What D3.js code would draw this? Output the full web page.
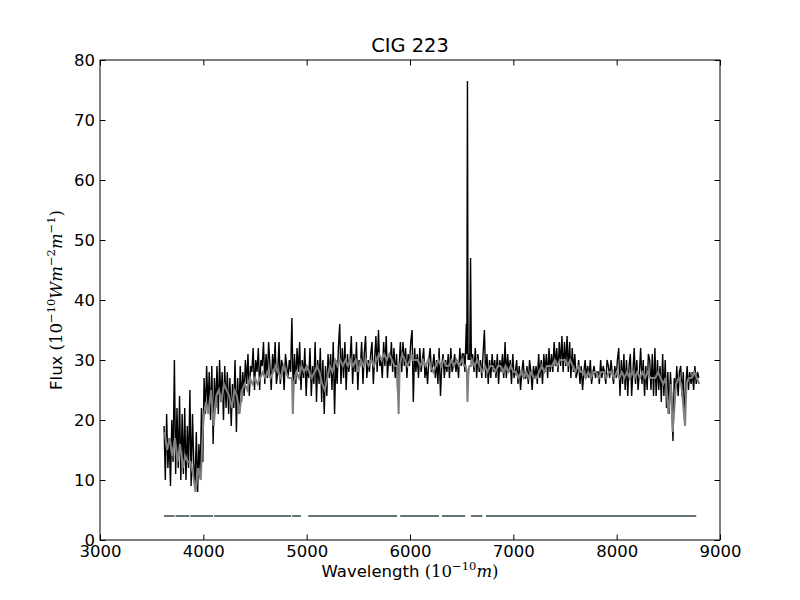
<!DOCTYPE html>
<html>
<head>
<meta charset="utf-8">
<script src="https://cdn.jsdelivr.net/npm/d3@7"></script>
<style>
  body { margin: 0; background: #fff; }
  text { font-family: "DejaVu Sans", sans-serif; }
</style>
</head>
<body>
<div id="chart"></div>
<script>
// observed spectrum (black): wavelength in Angstrom and flux
const obsWavelength = [
  3620, 3632, 3645, 3657, 3670, 3682, 3695, 3707,
  3720, 3732, 3745, 3757, 3770, 3782, 3795, 3807,
  3820, 3832, 3845, 3857, 3870, 3882, 3895, 3907,
  3920, 3932, 3945, 3957, 3970, 3982, 3995, 4007,
  4020, 4032, 4045, 4057, 4070, 4082, 4095, 4107,
  4120, 4132, 4145, 4157, 4170, 4182, 4195, 4207,
  4220, 4232, 4245, 4257, 4270, 4282, 4295, 4307,
  4320, 4332, 4345, 4357, 4370, 4382, 4395, 4407,
  4420, 4432, 4445, 4457, 4470, 4482, 4495, 4507,
  4520, 4532, 4545, 4557, 4570, 4582, 4595, 4607,
  4620, 4632, 4645, 4657, 4670, 4682, 4695, 4707,
  4720, 4732, 4745, 4757, 4770, 4782, 4795, 4807,
  4820, 4832, 4845, 4857, 4870, 4882, 4895, 4907,
  4920, 4932, 4945, 4957, 4970, 4982, 4995, 5007,
  5020, 5032, 5045, 5057, 5070, 5082, 5095, 5107,
  5120, 5132, 5145, 5157, 5170, 5182, 5195, 5207,
  5220, 5232, 5245, 5257, 5270, 5282, 5295, 5307,
  5320, 5332, 5345, 5357, 5370, 5382, 5395, 5407,
  5420, 5432, 5445, 5457, 5470, 5482, 5495, 5507,
  5520, 5532, 5545, 5557, 5570, 5582, 5595, 5607,
  5620, 5632, 5645, 5657, 5670, 5682, 5695, 5707,
  5720, 5732, 5745, 5757, 5770, 5782, 5795, 5807,
  5820, 5832, 5845, 5857, 5870, 5882, 5895, 5907,
  5920, 5932, 5945, 5957, 5970, 5982, 5995, 6007,
  6020, 6032, 6045, 6057, 6070, 6082, 6095, 6107,
  6120, 6132, 6145, 6157, 6170, 6182, 6195, 6207,
  6220, 6232, 6245, 6257, 6270, 6282, 6295, 6307,
  6320, 6332, 6345, 6357, 6370, 6382, 6395, 6407,
  6420, 6432, 6445, 6457, 6470, 6482, 6495, 6507,
  6520, 6532, 6545, 6550, 6556, 6562, 6570, 6578, 6586, 6594, 6605,
  6620, 6632, 6645, 6657, 6670, 6682, 6695, 6707,
  6720, 6732, 6745, 6757, 6770, 6782, 6795, 6807,
  6820, 6832, 6845, 6857, 6870, 6882, 6895, 6907,
  6920, 6932, 6945, 6957, 6970, 6982, 6995, 7007,
  7020, 7032, 7045, 7057, 7070, 7082, 7095, 7107,
  7120, 7132, 7145, 7157, 7170, 7182, 7195, 7207,
  7220, 7232, 7245, 7257, 7270, 7282, 7295, 7307,
  7320, 7332, 7345, 7357, 7370, 7382, 7395, 7407,
  7420, 7432, 7445, 7457, 7470, 7482, 7495, 7507,
  7520, 7532, 7545, 7557, 7570, 7582, 7595, 7607,
  7620, 7632, 7645, 7657, 7670, 7682, 7695, 7707,
  7720, 7732, 7745, 7757, 7770, 7782, 7795, 7807,
  7820, 7832, 7845, 7857, 7870, 7882, 7895, 7907,
  7920, 7932, 7945, 7957, 7970, 7982, 7995, 8007,
  8020, 8032, 8045, 8057, 8070, 8082, 8095, 8107,
  8120, 8132, 8145, 8157, 8170, 8182, 8195, 8207,
  8220, 8232, 8245, 8257, 8270, 8282, 8295, 8307,
  8320, 8332, 8345, 8357, 8370, 8382, 8395, 8407,
  8420, 8432, 8445, 8457, 8470, 8482, 8495, 8507,
  8520, 8532, 8545, 8557, 8570, 8582, 8595, 8607,
  8620, 8632, 8645, 8657, 8670, 8682, 8695, 8707,
  8720, 8732, 8745, 8757, 8770, 8782, 8795
];

const obsFlux = [
  19, 10, 21, 12, 17, 9, 20, 13,
  30, 11, 22, 12, 24, 10, 21, 11,
  22, 10, 19, 12, 25, 9, 21, 13,
  9, 18, 8, 16, 11, 22, 13, 27,
  21, 29, 22, 28, 20, 29, 16, 27,
  22, 29, 21, 30, 23, 28, 20, 29,
  22, 28, 21, 27, 19, 26, 22, 30,
  18, 27, 21, 29, 23, 28, 24, 30,
  26, 31, 24, 29, 28, 32, 25, 30,
  28, 32, 25, 30, 29, 33, 26, 31,
  27, 33, 29, 25, 31, 28, 33, 26,
  28, 33, 26, 30, 29, 25, 31, 29,
  27, 30, 28, 37, 24, 31, 26, 32,
  28, 33, 25, 30, 27, 32, 24, 29,
  27, 32, 24, 29, 26, 33, 23, 30,
  26, 32, 23, 30, 21, 29, 24, 31,
  27, 31, 25, 33, 21, 30, 26, 32,
  36, 26, 32, 27, 33, 25, 31, 28,
  30, 34, 26, 31, 28, 33, 25, 30,
  29, 33, 26, 31, 34, 27, 30, 28,
  31, 33, 26, 30, 34, 28, 35, 29,
  30, 27, 33, 29, 34, 27, 31, 29,
  33, 28, 32, 27, 31, 24, 29, 33,
  28, 33, 29, 32, 27, 31, 29, 33,
  35, 23, 32, 28, 31, 27, 32, 28,
  30, 32, 27, 29, 26, 30, 32, 28,
  29, 31, 27, 30, 26, 32, 24, 29,
  31, 27, 30, 28, 31, 27, 32, 28,
  29, 31, 28, 30, 27, 32, 29, 31,
  31, 28, 36, 31, 76.5, 30, 31, 30, 47, 29, 31,
  28, 32, 27, 31, 28, 30, 27, 31,
  35, 27, 31, 26, 30, 27, 31, 28,
  30, 27, 31, 26, 30, 28, 31, 27,
  33, 27, 31, 28, 30, 26, 31, 27,
  28, 30, 26, 29, 25, 28, 30, 27,
  27, 29, 26, 30, 28, 25, 29, 27,
  29, 26, 31, 27, 30, 26, 31, 28,
  31, 27, 32, 28, 31, 28, 33, 29,
  32, 28, 33, 29, 34, 28, 33, 29,
  34, 28, 33, 27, 32, 28, 31, 27,
  28, 30, 26, 29, 25, 28, 30, 27,
  29, 27, 30, 26, 28, 29, 27, 28,
  28, 26, 30, 27, 29, 28, 26, 30,
  29, 27, 30, 28, 26, 29, 27, 30,
  32, 24, 30, 26, 31, 25, 30, 24,
  29, 31, 24, 28, 32, 26, 30, 25,
  28, 32, 26, 30, 24, 29, 25, 31,
  30, 25, 31, 24, 32, 24, 30, 25,
  29, 23, 31, 24, 30, 22, 28, 21,
  28, 24, 16.5, 27, 25, 29, 24, 28,
  29, 24, 28, 20, 26, 29, 25, 28,
  26, 28, 25, 29, 26, 28, 27
];

// fitted model (grey)
const modelWavelength = [
  3625, 3650, 3675, 3700, 3725, 3750, 3775, 3800, 3825, 3850,
  3875, 3900, 3925, 3950, 3975, 4000, 4025, 4050, 4075, 4100,
  4125, 4150, 4175, 4200, 4225, 4250, 4275, 4300, 4325, 4350,
  4375, 4400, 4425, 4450, 4475, 4500, 4525, 4550, 4575, 4600,
  4625, 4650, 4675, 4700, 4725, 4750, 4775, 4800, 4825, 4850, 4858, 4866,
  4875, 4900, 4925, 4950, 4975, 5000, 5025, 5050, 5075, 5100,
  5125, 5150, 5175, 5200, 5225, 5250, 5275, 5300, 5325, 5350,
  5375, 5400, 5425, 5450, 5475, 5500, 5525, 5550, 5575, 5600,
  5625, 5650, 5675, 5700, 5725, 5750, 5775, 5800, 5825, 5850,
  5875, 5890, 5900, 5925, 5950, 5975, 6000, 6018, 6025, 6050, 6075, 6100,
  6125, 6150, 6175, 6200, 6225, 6250, 6275, 6300, 6325, 6350,
  6375, 6400, 6425, 6450, 6475, 6500, 6525, 6540, 6550, 6556, 6566, 6575, 6583, 6592, 6600,
  6625, 6650, 6675, 6700, 6725, 6750, 6775, 6800, 6825, 6850,
  6875, 6900, 6925, 6950, 6975, 7000, 7025, 7050, 7075, 7100,
  7125, 7150, 7175, 7200, 7225, 7250, 7275, 7300, 7325, 7350,
  7375, 7400, 7425, 7450, 7475, 7500, 7525, 7550, 7575, 7600,
  7625, 7650, 7675, 7700, 7725, 7750, 7775, 7800, 7825, 7850,
  7875, 7900, 7925, 7950, 7975, 8000, 8025, 8050, 8075, 8100,
  8125, 8150, 8175, 8200, 8225, 8250, 8275, 8300, 8325, 8350,
  8375, 8400, 8425, 8450, 8475, 8500, 8525, 8542, 8575, 8600,
  8625, 8662, 8675, 8700, 8725, 8750, 8775, 8800
];

const modelFlux = [
  18, 15, 17, 14, 17, 13, 16, 12, 14, 13,
  13, 11, 8, 12, 10, 20, 23, 21, 25, 19,
  24, 25, 23, 26, 25, 24, 22, 25, 24, 21,
  25, 26, 25, 27, 26, 27, 26, 27, 28, 27,
  28, 27, 28, 29, 28, 27, 29, 28, 27, 27, 27, 21,
  26, 28, 27, 29, 28, 29, 28, 27, 28, 29,
  28, 26, 25, 27, 29, 28, 30, 29, 30, 29,
  30, 29, 30, 29, 30, 28, 30, 29, 30, 29,
  30, 29, 30, 31, 30, 31, 30, 31, 30, 29,
  29, 21, 29, 31, 30, 29, 30, 31, 30, 30, 30, 29,
  30, 29, 30, 29, 28, 29, 30, 29, 30, 29,
  29, 30, 29, 30, 29, 30, 29, 29, 28, 23, 28, 29, 29, 29, 30,
  29, 30, 29, 28, 29, 28, 29, 29, 28, 29,
  29, 28, 29, 28, 29, 28, 28, 27, 28, 27,
  28, 27, 28, 27, 27, 28, 29, 28, 29, 29,
  29, 30, 29, 30, 30, 30, 29, 30, 29, 28,
  29, 28, 28, 27, 28, 27, 28, 28, 27, 28,
  28, 27, 28, 28, 27, 28, 27, 28, 27, 28,
  27, 28, 27, 28, 27, 28, 27, 28, 27, 27,
  27, 28, 27, 26, 27, 21, 26, 18, 26, 27,
  26, 19, 26, 27, 27, 28, 27, 26
];

// fitted wavelength ranges (mask segments) and their plotted level
const maskStart = [3620, 3730, 3875, 4105, 4860, 5015, 5905, 6310, 6590, 6735];
const maskEnd   = [3720, 3865, 4095, 4850, 4945, 5875, 6280, 6535, 6700, 8770];
const maskLevel = 4;

const xTicks = [3000, 4000, 5000, 6000, 7000, 8000, 9000];
const yTicks = [0, 10, 20, 30, 40, 50, 60, 70, 80];

const width = 800;
const height = 600;
const margin = { top: 60, right: 80, bottom: 60, left: 100 };

const svg = d3.select("#chart")
    .append("svg")
    .attr("width", width)
    .attr("height", height);

const x = d3.scaleLinear()
    .domain([3000, 9000])
    .range([margin.left, width - margin.right]);

const y = d3.scaleLinear()
    .domain([0, 80])
    .range([height - margin.bottom, margin.top]);

const obsPoints = obsWavelength.map((w, i) => ({ w: w, f: obsFlux[i] }));
const modelPoints = modelWavelength.map((w, i) => ({ w: w, f: modelFlux[i] }));

svg.append("clipPath").attr("id", "plotclip")
    .append("rect")
    .attr("x", x(3000)).attr("y", y(80))
    .attr("width", x(9000) - x(3000)).attr("height", y(0) - y(80));

const plot = svg.append("g").attr("clip-path", "url(#plotclip)");

const line = d3.line().x(d => x(d.w)).y(d => y(d.f));

plot.append("path")
    .datum(obsPoints)
    .attr("fill", "none")
    .attr("stroke", "#000")
    .attr("stroke-width", 1.4)
    .attr("d", line);

plot.append("path")
    .datum(modelPoints)
    .attr("fill", "none")
    .attr("stroke", "#808080")
    .attr("stroke-width", 2)
    .attr("d", line);

plot.selectAll(".mask")
    .data(maskStart.map((s, i) => ({ s: s, e: maskEnd[i] })))
    .enter()
    .append("line")
    .attr("class", "mask")
    .attr("x1", d => x(d.s))
    .attr("x2", d => x(d.e))
    .attr("y1", y(maskLevel))
    .attr("y2", y(maskLevel))
    .attr("stroke", "#657277")
    .attr("stroke-width", 2);

// axes: matplotlib classic style, ticks pointing inward on all four sides
const tickLen = 5.5;

const axisBottomG = svg.append("g")
    .attr("transform", `translate(0,${y(0)})`)
    .call(d3.axisBottom(x).tickValues(xTicks).tickSize(-tickLen).tickPadding(5).tickFormat(d3.format("d")));
const axisTopG = svg.append("g")
    .attr("transform", `translate(0,${y(80)})`)
    .call(d3.axisTop(x).tickValues(xTicks).tickSize(-tickLen).tickFormat(""));
const axisLeftG = svg.append("g")
    .attr("transform", `translate(${x(3000)},0)`)
    .call(d3.axisLeft(y).tickValues(yTicks).tickSize(-tickLen).tickPadding(5).tickFormat(d3.format("d")));
const axisRightG = svg.append("g")
    .attr("transform", `translate(${x(9000)},0)`)
    .call(d3.axisRight(y).tickValues(yTicks).tickSize(-tickLen).tickFormat(""));

[axisBottomG, axisTopG, axisLeftG, axisRightG].forEach(g => {
    g.select(".domain").remove();
    g.selectAll(".tick line").attr("stroke", "#000").attr("stroke-width", 1);
    g.selectAll(".tick text")
        .attr("fill", "#000")
        .style("font-family", "'DejaVu Sans', sans-serif")
        .style("font-size", "16.5px");
});

svg.append("rect")
    .attr("x", x(3000)).attr("y", y(80))
    .attr("width", x(9000) - x(3000)).attr("height", y(0) - y(80))
    .attr("fill", "none")
    .attr("stroke", "#000")
    .attr("stroke-width", 1);

svg.append("text")
    .attr("x", (x(3000) + x(9000)) / 2)
    .attr("y", 52)
    .attr("text-anchor", "middle")
    .style("font-size", "19.4px")
    .text("CIG 223");

const serif = "'DejaVu Serif', serif";

// x label with math part
const xLabel = svg.append("text")
    .attr("x", (x(3000) + x(9000)) / 2)
    .attr("y", 577)
    .attr("text-anchor", "middle")
    .style("font-size", "16.5px");
xLabel.append("tspan").text("Wavelength ");
xLabel.append("tspan").style("font-family", serif).text("(10");
xLabel.append("tspan").style("font-family", serif).style("font-size", "11.5px")
    .attr("dy", -7).text("\u221210");
xLabel.append("tspan").style("font-family", serif).style("font-style", "italic")
    .attr("dy", 7).text("m");
xLabel.append("tspan").style("font-family", serif).text(")");

// y label
const yLabel = svg.append("text")
    .attr("transform", `translate(62,${(y(0) + y(80)) / 2}) rotate(-90)`)
    .attr("text-anchor", "middle")
    .style("font-size", "16.5px");
yLabel.append("tspan").text("Flux ");
yLabel.append("tspan").style("font-family", serif).text("(10");
yLabel.append("tspan").style("font-family", serif).style("font-size", "11.5px")
    .attr("dy", -7).text("\u221210");
yLabel.append("tspan").style("font-family", serif).style("font-style", "italic")
    .attr("dy", 7).text("Wm");
yLabel.append("tspan").style("font-family", serif).style("font-size", "11.5px")
    .attr("dy", -7).text("\u22122");
yLabel.append("tspan").style("font-family", serif).style("font-style", "italic")
    .attr("dy", 7).text("m");
yLabel.append("tspan").style("font-family", serif).style("font-size", "11.5px")
    .attr("dy", -7).text("\u22121");
yLabel.append("tspan").style("font-family", serif)
    .attr("dy", 7).text(")");
</script>
</body>
</html>
